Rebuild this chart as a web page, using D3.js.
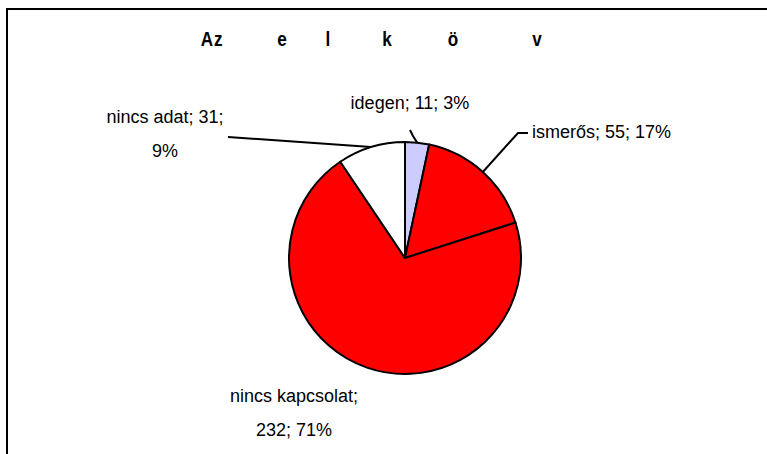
<!DOCTYPE html>
<html>
<head>
<meta charset="utf-8">
<script src="https://cdn.jsdelivr.net/npm/d3@7"></script>
<style>
  body { margin: 0; background: #fff; }
  text { font-family: "Liberation Sans", Arial, sans-serif; fill: #000; }
</style>
</head>
<body>
<div id="chart"></div>
<script>
// slices, clockwise from 12 o'clock
const categories = ['idegen', 'ismerős', 'nincs kapcsolat', 'nincs adat'];
const values = [11, 55, 232, 31];
const percents = ['3%', '17%', '71%', '9%'];
const colors = ['#ccccff', '#ff0000', '#ff0000', '#ffffff'];

// title is drawn as spaced-out letters
const titleParts = ['Az', 'e', 'l', 'k', 'ö', 'v'];
const titleX = [212, 282, 328, 387, 453, 537];

// label layout: text lines, anchor, and leader line points (null = no leader)
const labelLayout = [
  { lines: ['idegen; 11; 3%'], x: 410, y: 109, anchor: 'middle', leader: [[413, 136], [410, 130]] },
  { lines: ['ismerős; 55; 17%'], x: 532, y: 138, anchor: 'start', leader: [[518, 133], [528, 133]] },
  { lines: ['nincs kapcsolat;', '232; 71%'], x: 294, y: 402, anchor: 'middle', leader: null },
  { lines: ['nincs adat; 31;', '9%'], x: 165, y: 123, anchor: 'middle', leader: [[228, 137]] },
];

const width = 767;
const height = 454;
const cx = 405;
const cy = 258;
const radius = 116;

const svg = d3.select('#chart')
  .append('svg')
  .attr('width', width)
  .attr('height', height);

// chart frame (right and bottom edges fall outside the view)
svg.append('rect')
  .attr('x', 7)
  .attr('y', 9)
  .attr('width', 800)
  .attr('height', 500)
  .attr('fill', 'none')
  .attr('stroke', '#000')
  .attr('stroke-width', 2);

svg.append('g')
  .selectAll('text')
  .data(titleParts)
  .enter()
  .append('text')
  .attr('transform', (d, i) => `translate(${titleX[i]},46) scale(0.9,1.1)`)
  .attr('text-anchor', 'middle')
  .style('font-size', '19px')
  .style('font-weight', 'bold')
  .attr('letter-spacing', (d) => (d.length > 1 ? '1px' : null))
  .text(d => d);

const pie = d3.pie().sort(null).value(d => d);
const arcs = pie(values);

const arc = d3.arc()
  .innerRadius(0)
  .outerRadius(radius);

const g = svg.append('g')
  .attr('transform', `translate(${cx},${cy})`);

g.selectAll('path.slice')
  .data(arcs)
  .enter()
  .append('path')
  .attr('class', 'slice')
  .attr('d', arc)
  .attr('fill', (d, i) => colors[i])
  .attr('stroke', '#000')
  .attr('stroke-width', 2)
  .attr('stroke-linejoin', 'round');

// leader lines from the slice edge at mid-angle
const line = d3.line();
arcs.forEach((a, i) => {
  const lay = labelLayout[i];
  if (!lay.leader) return;
  const mid = (a.startAngle + a.endAngle) / 2;
  const start = [cx + radius * Math.sin(mid), cy - radius * Math.cos(mid)];
  svg.append('path')
    .attr('d', line([start].concat(lay.leader)))
    .attr('fill', 'none')
    .attr('stroke', '#000')
    .attr('stroke-width', 2);
});

// data labels
arcs.forEach((a, i) => {
  const lay = labelLayout[i];
  const txt = svg.append('text')
    .attr('text-anchor', lay.anchor)
    .style('font-size', '18px');
  lay.lines.forEach((ln, j) => {
    txt.append('tspan')
      .attr('x', lay.x)
      .attr('y', lay.y + j * 34)
      .text(ln);
  });
  txt.attr('data-label', `${categories[i]}; ${values[i]}; ${percents[i]}`);
});
</script>
</body>
</html>
